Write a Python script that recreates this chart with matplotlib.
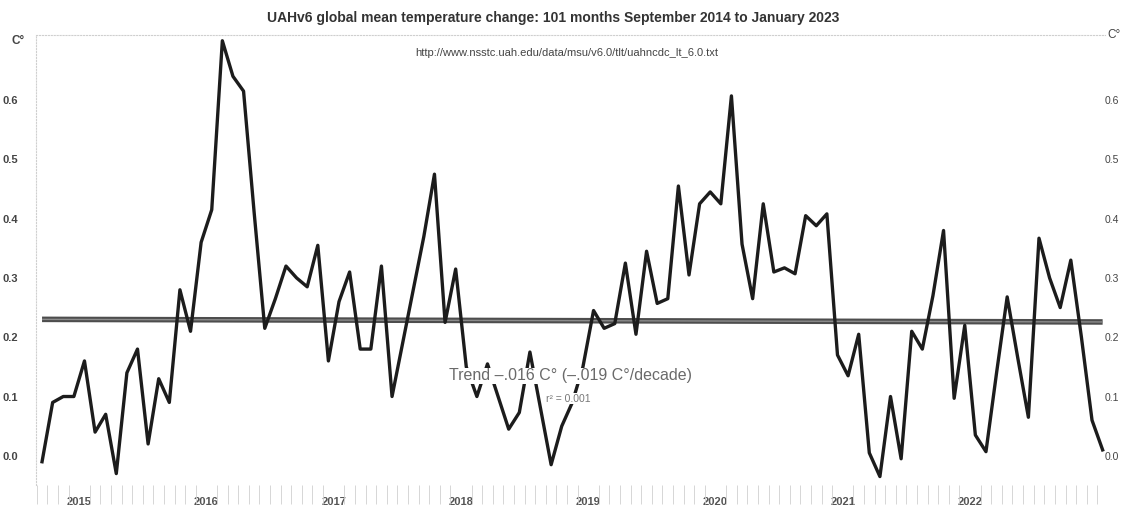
import numpy as np
import matplotlib
matplotlib.use("Agg")
import matplotlib.pyplot as plt

plt.rcParams['font.family'] = ['Liberation Sans', 'DejaVu Sans']

# UAHv6 monthly anomalies, Sep 2014 .. Jan 2023
anomaly = [
    -0.01, 0.09, 0.10, 0.10, 0.16, 0.04, 0.07, -0.03, 0.14, 0.18,
    0.02, 0.13, 0.09, 0.28, 0.21, 0.36, 0.415, 0.70, 0.64, 0.615,
    0.41, 0.215, 0.265, 0.32, 0.30, 0.285, 0.355, 0.16, 0.26, 0.31,
    0.18, 0.18, 0.32, 0.10, 0.19, 0.28, 0.37, 0.475, 0.225, 0.315,
    0.15, 0.10, 0.155, 0.10, 0.045, 0.073, 0.175, 0.08, -0.015, 0.05,
    0.09, 0.15, 0.245, 0.215, 0.223, 0.325, 0.205, 0.345, 0.257, 0.265,
    0.455, 0.305, 0.425, 0.445, 0.425, 0.607, 0.357, 0.265, 0.425, 0.31,
    0.317, 0.307, 0.405, 0.388, 0.408, 0.17, 0.135, 0.205, 0.005, -0.035,
    0.10, -0.005, 0.21, 0.18, 0.27, 0.38, 0.097, 0.22, 0.035, 0.007,
    0.14, 0.268, 0.165, 0.065, 0.367, 0.30, 0.25, 0.33, 0.20, 0.06,
    0.01,
]
years = ['2015', '2016', '2017', '2018', '2019', '2020', '2021', '2022']
year_start_month = [4, 16, 28, 40, 52, 64, 76, 88]   # index of January in the series
y_ticks = [0.0, 0.1, 0.2, 0.3, 0.4, 0.5, 0.6]

title = 'UAHv6 global mean temperature change: 101 months September 2014 to January 2023'
source = 'http://www.nsstc.uah.edu/data/msu/v6.0/tlt/uahncdc_lt_6.0.txt'
trend_label = 'Trend \u2013.016 C\u00b0 (\u2013.019 C\u00b0/decade)'
r2_label = 'r\u00b2 = 0.001'

months = np.arange(len(anomaly))
y = np.array(anomaly)

# least squares trend
slope, intercept = np.polyfit(months, y, 1)
trend = intercept + slope * months

fig = plt.figure(figsize=(11.25, 5.12), dpi=100)
ax = fig.add_axes([0.032, 0.053, 0.950, 0.879])

ax.plot(months, trend, color='#4d4d4d', lw=4.0, solid_capstyle='butt', zorder=2)
ax.plot(months, trend, color='#8c8c8c', lw=1.0, solid_capstyle='butt', zorder=2)
ax.plot(months, y, color='#1c1c1c', lw=2.4, zorder=3)

ax.set_xlim(-0.57, 100.2)
ax.set_ylim(-0.049, 0.71)

ax.set_yticks(y_ticks)
ax.set_yticklabels([f'{v:.1f}' for v in y_ticks])
ax.tick_params(axis='y', length=0, labelsize=8, labelcolor='#444444', pad=13)
for lbl in ax.get_yticklabels():
    lbl.set_fontweight('bold')

# right hand scale
ax2 = ax.twinx()
ax2.set_ylim(ax.get_ylim())
ax2.set_yticks(y_ticks)
ax2.set_yticklabels([f'{v:.1f}' for v in y_ticks])
ax2.tick_params(axis='y', length=0, labelsize=7.5, labelcolor='#444444', pad=0)
for side in ax2.spines:
    ax2.spines[side].set_visible(False)

ax.set_xticks([m - 0.5 for m in year_start_month])
ax.set_xticklabels(years)
ax.set_xticks(np.arange(-0.5, 100.5, 1), minor=True)
ax.tick_params(axis='x', which='major', length=0, labelsize=8, labelcolor='#555555', pad=9)
ax.tick_params(axis='x', which='minor', length=14, width=0.6, color='#d0d0d0', direction='out')
for lbl in ax.get_xticklabels():
    lbl.set_fontweight('bold')

for side in ['right', 'bottom']:
    ax.spines[side].set_visible(False)
for side in ['left', 'top']:
    ax.spines[side].set_color('#cfcfcf')
    ax.spines[side].set_linestyle(':')
    ax.spines[side].set_linewidth(0.8)

fig.text(0.010, 0.915, 'C\u00b0', fontsize=8.5, color='#444444', fontweight='bold')
fig.text(0.984, 0.925, 'C\u00b0', fontsize=8.5, color='#444444')
fig.text(0.492, 0.965, title, ha='center', va='center', fontsize=10,
         fontweight='bold', color='#333333')
fig.text(0.504, 0.897, source, ha='center', va='center', fontsize=8, color='#444444')

ax.text(49.8, 0.135, trend_label, ha='center', va='center', fontsize=11.5, color='#6a6a6a',
        bbox=dict(facecolor='white', edgecolor='none', pad=0.5), zorder=4)
ax.text(49.6, 0.096, r2_label, ha='center', va='center', fontsize=7.5, color='#777777',
        bbox=dict(facecolor='white', edgecolor='none', pad=0.3), zorder=4)

fig.savefig('out.png', dpi=100, facecolor='white')
